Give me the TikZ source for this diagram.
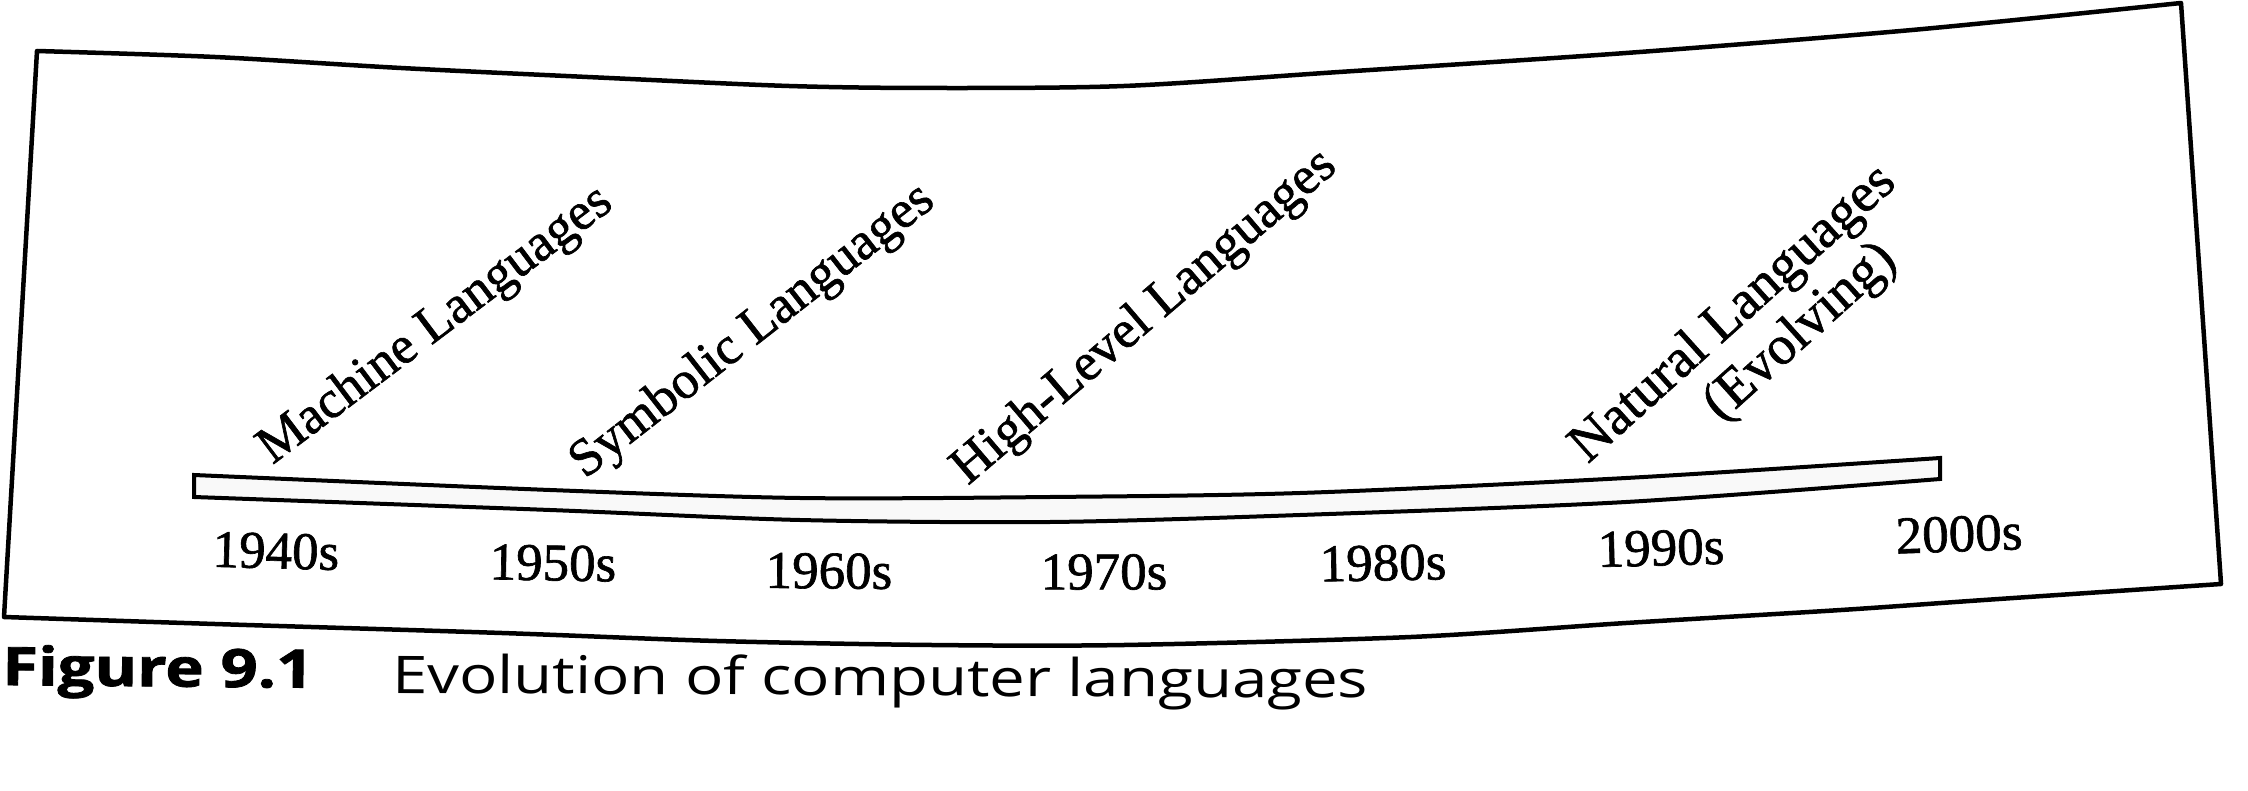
\documentclass[tikz,border=0pt]{standalone}
\usepackage{fontspec}
\usepackage{graphicx}
\setmainfont{Liberation Serif}
\newfontfamily\lblfont{Liberation Serif}[FakeBold=1.2]
\newfontfamily\capfont{Open Sans}
\newfontfamily\figfont{Open Sans}[BoldFeatures={FakeBold=1.5}]
\tikzset{
  frameline/.style={line width=4.5pt, line join=round},
  barline/.style={line width=4pt, fill=gray!5, line join=miter},
  yearlbl/.style={font=\lblfont\fontsize{53}{60}\selectfont, inner sep=0pt},
  langlbl/.style={font=\lblfont\fontsize{53}{60}\selectfont, inner sep=0pt},
}
\begin{document}
\begin{tikzpicture}[x=1pt,y=-1pt]
\useasboundingbox[fill=white] (0,0) rectangle (2248,791);
% outer warped frame
\draw[frameline] plot[smooth] coordinates {(37,51) (215,57) (401,68) (609,78) (789,86) (932,88) (1124,86) (1339,72) (1626,53) (1912,30) (2181,3)}
  -- plot[smooth] coordinates {(2221,584) (1984,600) (1841,610) (1626,623) (1411,637) (1124,645) (932,645) (717,641) (502,633) (215,624) (4,617)}
  -- cycle;
% timeline bar
\draw[barline] plot[smooth] coordinates {(194,475) (550,490) (800,498) (1050,497) (1300,493) (1626,478) (1940,458)}
  -- plot[smooth] coordinates {(1940,479) (1626,502) (1300,515) (1050,522) (800,520) (550,510) (194,497)}
  -- cycle;
% language labels
\node[langlbl, rotate=37]   (mach) at (436,326) {Machine Languages};
\node[langlbl, rotate=38]   (symb) at (753,332) {Symbolic Languages};
\node[langlbl, rotate=40.5] (high) at (1145,318) {High-Level Languages};
\node[langlbl, rotate=42, font=\lblfont\fontsize{55}{60}\selectfont] (natl) at (1734,315) {Natural Languages};
\node[langlbl, rotate=42, font=\lblfont\fontsize{55}{60}\selectfont] (evol) at (1801,333) {(Evolving)};
% years
\node[yearlbl, rotate=-1.5] (y40) at (276,551) {1940s};
\node[yearlbl, rotate=-1]   (y50) at (553,563) {1950s};
\node[yearlbl, rotate=-0.5] (y60) at (829,571) {1960s};
\node[yearlbl]              (y70) at (1104,572) {1970s};
\node[yearlbl, rotate=1]    (y80) at (1383,563) {1980s};
\node[yearlbl, rotate=1.5]  (y90) at (1661,548) {1990s};
\node[yearlbl, rotate=2]    (y00) at (1959,534) {2000s};
% caption
\node[anchor=base west, inner sep=0pt, rotate=-0.5] (fig) at (2,685)
  {\resizebox{311pt}{\height}{\figfont\bfseries\fontsize{53}{60}\selectfont Figure 9.1}};
\node[anchor=base west, inner sep=0pt, rotate=-0.3] (cap) at (392,693)
  {\resizebox{976pt}{\height}{\capfont\fontsize{52}{60}\selectfont Evolution of computer languages}};
\end{tikzpicture}
\end{document}
